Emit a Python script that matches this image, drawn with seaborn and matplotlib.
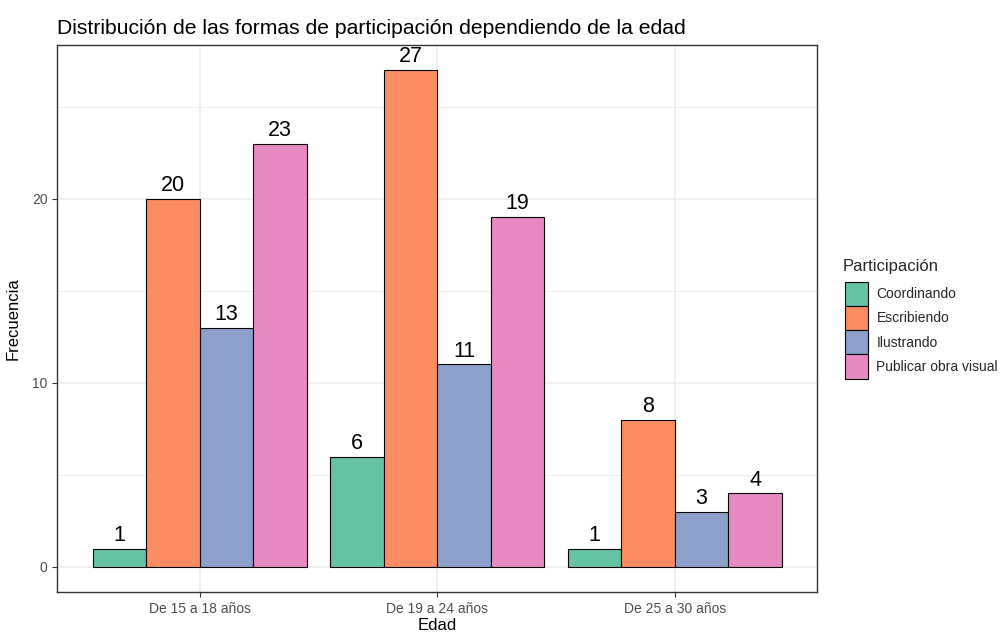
import pandas as pd
import numpy as np
import matplotlib.pyplot as plt
import seaborn as sns
from matplotlib.patches import Patch

# Data
edades = ['De 15 a 18 años', 'De 19 a 24 años', 'De 25 a 30 años']
participacion = ['Coordinando', 'Escribiendo', 'Ilustrando', 'Publicar obra visual']
coordinando = [1, 6, 1]
escribiendo = [20, 27, 8]
ilustrando = [13, 11, 3]
publicar = [23, 19, 4]
colores = ['#66C2A5', '#FC8D62', '#8DA0CB', '#E78AC3']

df = pd.DataFrame({
    'Edad': np.repeat(edades, len(participacion)),
    'Participación': participacion * len(edades),
    'Frecuencia': [v for trio in zip(coordinando, escribiendo, ilustrando, publicar) for v in trio],
})

sns.set_style('white')
plt.rcParams['font.family'] = ['Liberation Sans', 'DejaVu Sans']

fig = plt.figure(figsize=(10.03, 6.35), dpi=100)
ax = fig.add_axes([0.057, 0.068, 0.758, 0.861])

# grid first
for y in [0, 5, 10, 15, 20, 25]:
    ax.axhline(y, color='#EBEBEB', lw=0.6 if y % 10 else 1.1, zorder=0)
for x in range(len(edades)):
    ax.axvline(x, color='#EBEBEB', lw=1.1, zorder=0)

sns.barplot(data=df, x='Edad', y='Frecuencia', hue='Participación',
            hue_order=participacion, order=edades, palette=colores,
            width=0.9, gap=0, edgecolor='black', linewidth=0.8,
            saturation=1, legend=False, ax=ax, zorder=2)

for cont in ax.containers:
    ax.bar_label(cont, fmt='%d', padding=2, fontsize=15.5, color='black')

ax.set_xlim(-0.6, 2.6)
ax.set_ylim(-1.35, 28.35)
ax.set_yticks([0, 10, 20])
ax.tick_params(axis='both', colors='#333333', labelcolor='#4D4D4D',
               labelsize=10, length=3.5, width=0.8, direction='out')
ax.tick_params(axis='both', which='both', bottom=True, left=True)
for s in ax.spines.values():
    s.set_color('#333333')
    s.set_linewidth(1.0)
    s.set_visible(True)

ax.set_xlabel('Edad', fontsize=12, color='black', labelpad=2)
ax.set_ylabel('Frecuencia', fontsize=12, color='black', labelpad=8)
ax.set_title('Distribución de las formas de participación dependiendo de la edad',
             fontsize=15.2, loc='left', x=0.0, pad=8, color='black')

# legend title drawn separately to get the ggplot-like gap
fig.text(0.8405, 0.581, 'Participación', fontsize=12, va='center', ha='left')
handles = [Patch(facecolor=c, edgecolor='black', linewidth=0.8) for c in colores]
leg = fig.legend(handles, participacion,
                 loc='upper left', bbox_to_anchor=(0.842, 0.556), frameon=False,
                 fontsize=10, handlelength=1.7,
                 handleheight=2.3, handletextpad=0.6, labelspacing=0.0,
                 borderaxespad=0, borderpad=0)

fig.savefig('out.png', dpi=100)
